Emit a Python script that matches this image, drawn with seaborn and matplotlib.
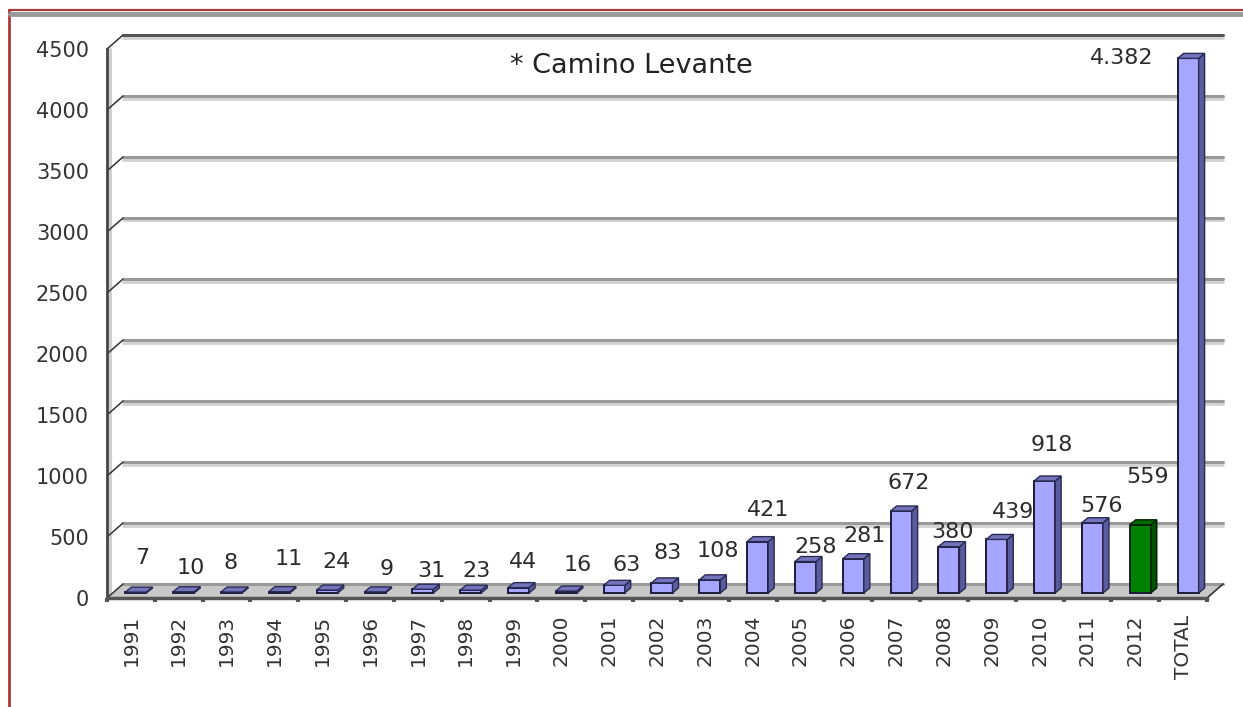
import numpy as np
import pandas as pd
import seaborn as sns
import matplotlib.pyplot as plt
from matplotlib.lines import Line2D
from matplotlib.patches import Polygon
from matplotlib.transforms import IdentityTransform, offset_copy

years = ["1991", "1992", "1993", "1994", "1995", "1996", "1997", "1998",
         "1999", "2000", "2001", "2002", "2003", "2004", "2005", "2006",
         "2007", "2008", "2009", "2010", "2011", "2012", "TOTAL"]
pilgrims = [7, 10, 8, 11, 24, 9, 31, 23, 44, 16, 63, 83, 108, 421, 258,
            281, 672, 380, 439, 918, 576, 559, 4382]
value_text = ["7", "10", "8", "11", "24", "9", "31", "23", "44", "16", "63",
              "83", "108", "421", "258", "281", "672", "380", "439", "918",
              "576", "559", "4.382"]
current_year = "2012"
y_ticks = list(range(0, 5000, 500))
title = "* Camino Levante"

# nudges (pixels) so the value labels sit where the original put them
label_dx = [11, 12, 4, 14, 14, 17, 14, 11, 10, 16, 17, 11, 13, 15, 15, 16,
            13, 9, 21, 12, 14, 12, -61]
label_dy = [39, 29, 34, 38, 33, 28, 23, 24, 31, 31, 25, 35, 34, 37, 20, 28,
            33, 20, 32, 41, 22, 53, 5]

W, H, DPI = 1243, 707, 100
BAR_SHIFT = (5, 5)     # bars stand a bit behind the floor's front edge
BAR_DEPTH = (6, 5)
WALL_DEPTH = (16, 14)

sns.set_theme(style="white")
plt.rcParams["font.family"] = ["DejaVu Sans"]

fig = plt.figure(figsize=(W / DPI, H / DPI), dpi=DPI)
ax = fig.add_axes([107 / W, (H - 598) / H, 1100 / W, 549 / H])

df = pd.DataFrame({"year": years, "count": pilgrims})
palette = {y: ("#008000" if y == current_year else "#a6a6ff") for y in years}

sns.barplot(
    data=df, x="year", y="count", hue="year", palette=palette,
    dodge=False, legend=False, width=0.44, saturation=1, errorbar=None,
    edgecolor="#1c1c3a", linewidth=1.4, ax=ax, zorder=3,
)

ax.set_xlim(-0.5, len(years) - 0.5)
ax.set_ylim(0, 4500)

# floor and back wall grid
wx, wy = WALL_DEPTH
fl, fr = ax.transData.transform([(-0.5, 0), (len(years) - 0.5, 0)])
floor = Polygon([fl, fr, fr + (wx, wy), fl + (wx, wy)], closed=True,
                facecolor="#c8c8c8", edgecolor="none",
                transform=IdentityTransform(), clip_on=False, zorder=1)
ax.add_patch(floor)
ax.add_line(Line2D([fr[0], fr[0] + wx], [fr[1], fr[1] + wy], color="#333333",
                   lw=1.2, transform=IdentityTransform(), clip_on=False, zorder=2))

for v in y_ticks:
    px0, py = ax.transData.transform((-0.5, v))
    px1 = fr[0]
    col = "#555555" if v == y_ticks[-1] else "#999999"
    if v > 0:
        ax.add_line(Line2D([px0 + wx, px1 + wx], [py + wy - 2.5, py + wy - 2.5],
                           color="#d2d2d2", lw=2, transform=IdentityTransform(),
                           clip_on=False, zorder=1))
    ax.add_line(Line2D([px0 + wx, px1 + wx], [py + wy, py + wy], color=col,
                       lw=2.2, transform=IdentityTransform(), clip_on=False,
                       zorder=1.5))
    ax.add_line(Line2D([px0, px0 + wx], [py, py + wy], color="#333333", lw=1.1,
                       transform=IdentityTransform(), clip_on=False, zorder=2))

# light shadow next to the value axis
y0 = ax.transData.transform((-0.5, 0))
y1 = ax.transData.transform((-0.5, 4500))
ax.add_line(Line2D([y0[0] + 3, y1[0] + 3], [y0[1], y1[1]], color="#cccccc",
                   lw=2, transform=IdentityTransform(), clip_on=False, zorder=1))

# push bars back and give them some depth
bar_tr = offset_copy(ax.transData, fig=fig, x=BAR_SHIFT[0], y=BAR_SHIFT[1],
                     units="dots")
dx, dy = BAR_DEPTH
for p in list(ax.patches):
    if p is floor:
        continue
    p.set_transform(bar_tr)
    x0, x1 = p.get_x(), p.get_x() + p.get_width()
    h = p.get_height()
    (bx0, by0), (bx1, by1) = bar_tr.transform([(x0, 0), (x1, h)])
    idx = int(round((x0 + x1) / 2))
    if years[idx] == current_year:
        side_c, top_c, edge_c = "#005000", "#006a00", "#002000"
    else:
        side_c, top_c, edge_c = "#5b5b9e", "#7474bc", "#2a2a55"
    side = Polygon([(bx1, by0), (bx1 + dx, by0 + dy), (bx1 + dx, by1 + dy),
                    (bx1, by1)], closed=True, facecolor=side_c,
                   edgecolor=edge_c, lw=1, transform=IdentityTransform(),
                   clip_on=False, zorder=3)
    top = Polygon([(bx0, by1), (bx1, by1), (bx1 + dx, by1 + dy),
                   (bx0 + dx, by1 + dy)], closed=True, facecolor=top_c,
                  edgecolor=edge_c, lw=1, transform=IdentityTransform(),
                  clip_on=False, zorder=3)
    ax.add_patch(side)
    ax.add_patch(top)

for i, (v, txt) in enumerate(zip(pilgrims, value_text)):
    ax.annotate(txt, xy=(i, v), xytext=(label_dx[i], label_dy[i]),
                textcoords="offset pixels", ha="center", va="center",
                fontsize=16, color="#2b2b2b", annotation_clip=False, zorder=4)

# axes styling
for s in ["top", "right"]:
    ax.spines[s].set_visible(False)
ax.spines["left"].set_color("#444444")
ax.spines["left"].set_linewidth(2)
ax.spines["bottom"].set_color("#555555")
ax.spines["bottom"].set_linewidth(2.5)

ax.set_yticks(y_ticks)
ax.set_yticklabels([str(v) for v in y_ticks])
ax.tick_params(axis="y", length=0, pad=13, labelsize=15, labelcolor="#333333")

ax.set_xticks(range(len(years)))
ax.set_xticklabels(years, rotation=90)
ax.set_xticks(np.arange(len(years) + 1) - 0.5, minor=True)
ax.tick_params(axis="x", which="major", length=0, pad=12, labelsize=14.5,
               labelcolor="#333333")
ax.tick_params(axis="x", which="minor", bottom=True, length=3, width=3,
               color="#555555", direction="out")
ax.set_xlabel("")
ax.set_ylabel("")

fig.text(631 / W, 1 - 66 / H, title, ha="center", va="center",
         fontsize=19.5, color="#222222")

# outer frame
fig.add_artist(Line2D([9 / W, 9 / W], [0, 1 - 10 / H], color="#a83a3a", lw=2,
                      transform=fig.transFigure))
fig.add_artist(Line2D([9 / W, 1], [1 - 10 / H, 1 - 10 / H], color="#a83a3a",
                      lw=1.6, transform=fig.transFigure))
fig.add_artist(Line2D([10 / W, 1], [1 - 14 / H, 1 - 14 / H], color="#999999",
                      lw=3.5, transform=fig.transFigure))

fig.savefig("out.png", dpi=DPI, facecolor="white")
